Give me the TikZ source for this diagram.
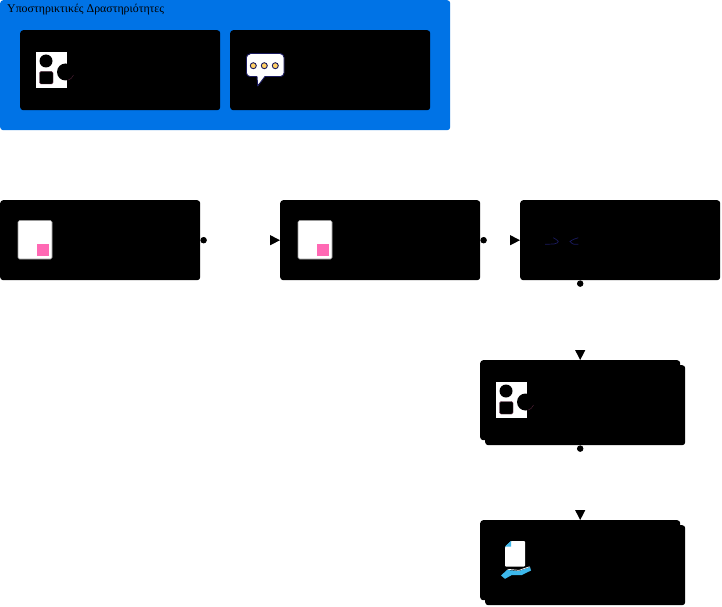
\documentclass[tikz,border=0pt]{standalone}
\usepackage{fontspec}
\setmainfont{Liberation Serif}
\usetikzlibrary{arrows.meta,positioning,calc}
\definecolor{groupblue}{HTML}{0073E6}
\definecolor{navyline}{HTML}{1A1A5E}
\definecolor{iconpink}{HTML}{FF69B4}
\definecolor{iconyellow}{HTML}{FFD166}
\definecolor{iconcyan}{HTML}{3DB8EC}
\tikzset{
  x=1pt,y=-1pt,
  card/.style={fill=black,draw=none,rounded corners=3pt,minimum width=200pt,minimum height=80pt,inner sep=0pt,anchor=north west},
  groupbox/.style={fill=groupblue,draw=none,rounded corners=3pt,minimum width=450pt,minimum height=130pt,inner sep=0pt,anchor=north west},
  flow/.style={draw=white,line width=1pt,{Circle[black,length=6.4pt,width=6.4pt]}-{Triangle[black,length=10pt,width=10pt]}},
  shapesicon/.pic={
    \fill[white] (0,0) rectangle (31,36);
    \fill[black] (10,9) circle (6.5);
    \draw[iconpink!35!black,line width=.4pt,fill=black,rounded corners=1.5pt] (3.5,19.5) rectangle (17,32);
    \fill[black] (29.5,20) circle (8.5);
    \draw[iconpink!35!black,line width=.4pt] (37.5,23) arc (20:75:8.5);
  },
  docicon/.pic={
    \draw[gray!80,line width=.6pt,fill=white,rounded corners=1.5pt] (0,0) rectangle (34,38.5);
    \fill[iconpink] (19,23.5) rectangle (31,35.2);
  }
}
\begin{document}
\begin{tikzpicture}
\useasboundingbox (0,0) rectangle (722,607);
\fill[white] (0,0) rectangle (722,607);
\node[groupbox] (group) at (0,0) {};
\node[anchor=west,inner sep=0pt,font=\fontsize{11.85}{14}\selectfont] (grouplabel) at (7,10) {Υποστηρικτικές Δραστηριότητες};
\node[card] (g1) at (20,30) {};
\node[card] (g2) at (230,30) {};
\node[card] (a) at (0,200) {};
\node[card] (b) at (280,200) {};
\node[card] (c) at (520,200) {};
\node[card] (dback) at (485,365) {};
\node[card] (d) at (480,360) {};
\node[card] (eback) at (485,525) {};
\node[card] (e) at (480,520) {};
\draw[flow] (a.east) -- (b.west);
\draw[flow] (b.east) -- (c.west);
\draw[flow] (d.north |- c.south) -- (d.north);
\draw[flow] (d.south |- dback.south) -- (e.north);
% icons
\pic at (36,52) {shapesicon};
\pic at (496,382) {shapesicon};
\pic at (18,220.5) {docicon};
\pic at (298,220.5) {docicon};
% speech bubble
\draw[navyline,line width=.9pt,fill=white,line join=round]
  (250,53.5) -- (280,53.5) arc (-90:0:4) -- (284,73) arc (0:90:3.5) -- (265,76.5) -- (257.7,86) -- (257,76.5) -- (250,76.5) arc (90:180:3.5) -- (246.5,57.5) arc (180:270:3.5) -- cycle;
\foreach \px in {253.3,264.3,275.3}
  \draw[navyline,line width=.9pt,fill=iconyellow] (\px,65.7) circle (3);
% faint marks in third card
\draw[navyline,line width=.7pt] (545,244.3) -- (554,244) .. controls (557,243.5) and (558.5,242.5) .. (558.3,241.3) .. controls (557,240) and (555,238.5) .. (553.3,237.7);
\draw[navyline,line width=.7pt] (578.3,237.7) .. controls (575,238.5) and (572,240) .. (570,241.3) .. controls (571,243) and (572.5,244) .. (574,244.3) -- (578.3,244.3);
% document in hand
\fill[white,rounded corners=1pt] (511,541) -- (525,541) -- (525,566.7) -- (505,566.7) -- (505,547) -- cycle;
\fill[iconcyan] (505,546.5) -- (511,541) -- (511,546.5) -- cycle;
\fill[iconcyan] (501,575.5) -- (507,570) -- (519,571) -- (530,567) -- (531,570.5) -- (521.5,575.2) -- (511.5,575.2) -- (505,578.8) -- cycle;
\draw[white,line width=.7pt] (507.5,569.3) -- (519,570.3) -- (529.5,566.7);
\end{tikzpicture}
\end{document}
